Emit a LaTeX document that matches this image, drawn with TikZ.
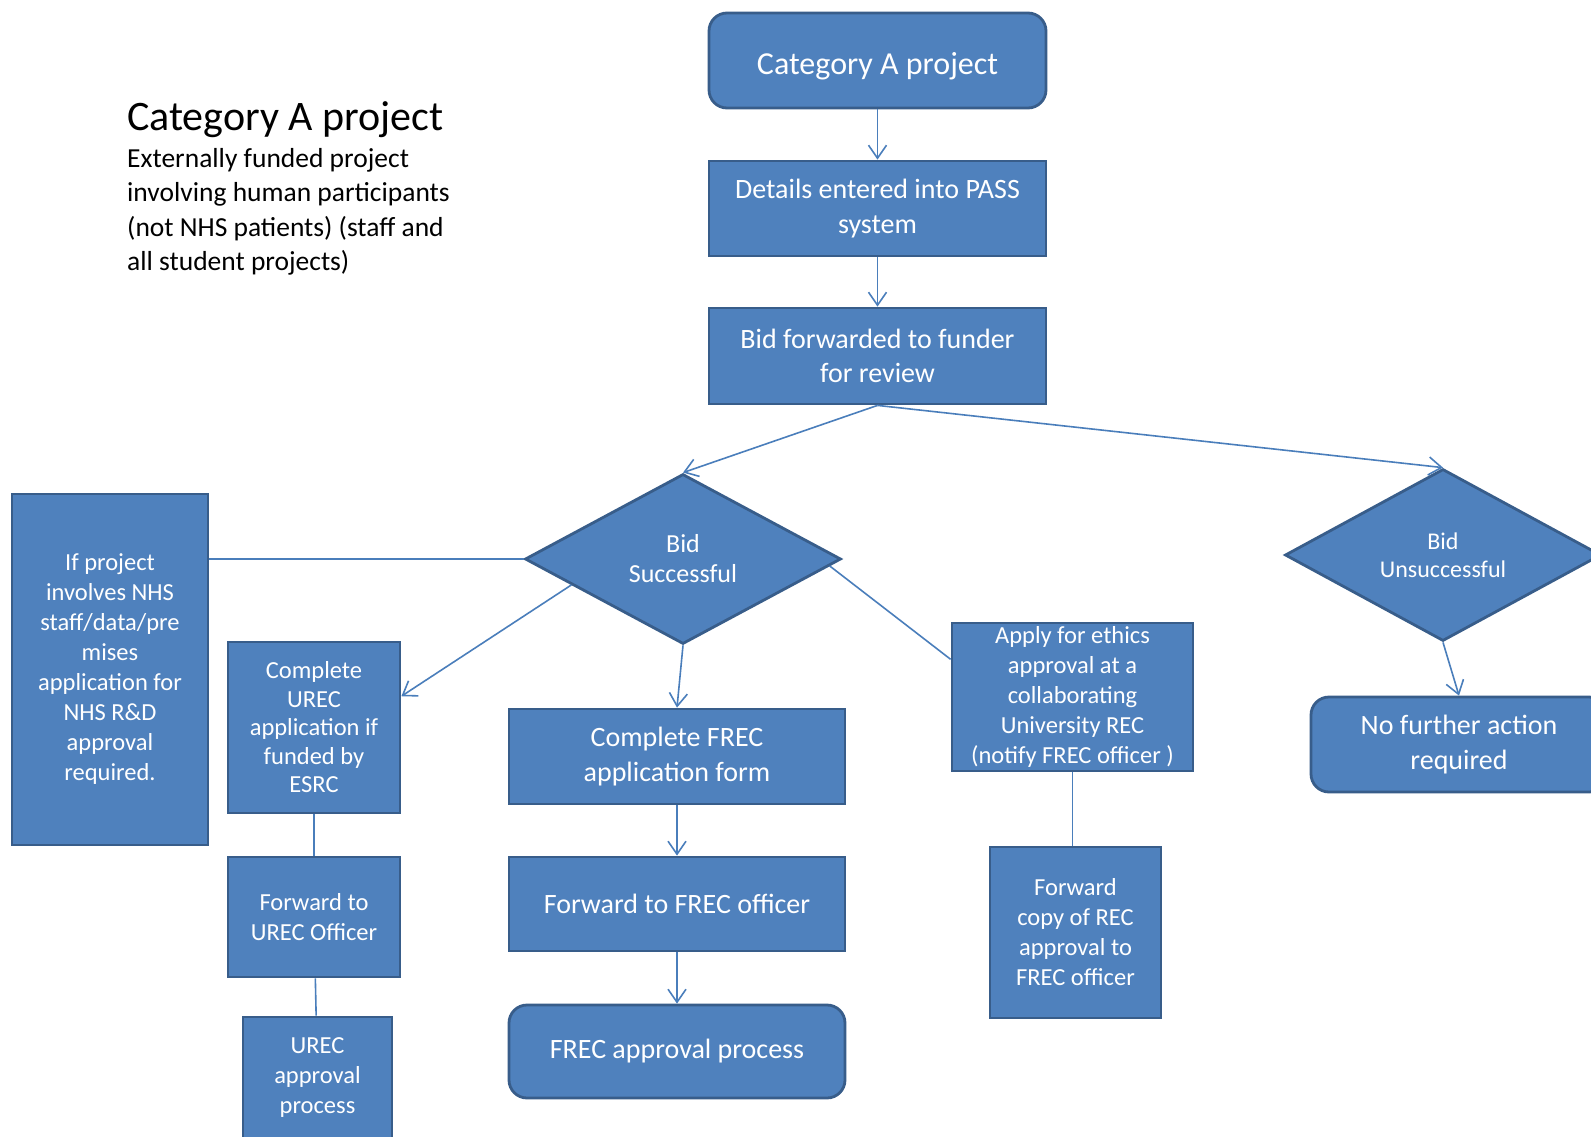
\documentclass[tikz,border=0pt]{standalone}
\usepackage{fontspec}
\setmainfont{Carlito}
\usetikzlibrary{shapes.geometric,arrows.meta,calc}
\definecolor{boxfill}{HTML}{4F81BD}
\definecolor{boxline}{HTML}{385D8A}
\definecolor{conn}{HTML}{4A7EBB}
\newcommand{\bigtxt}{\fontsize{28}{34.5}\selectfont}
\newcommand{\smalltxt}{\fontsize{24.5}{30}\selectfont}
\begin{document}
\begin{tikzpicture}[x=1pt,y=-1pt,
  box/.style={draw=boxline, line width=2.8pt, fill=boxfill, text=white, align=center, inner sep=0pt},
  rbox/.style={box, rounded corners=18pt},
  dia/.style={box, diamond, aspect=1.86},
  big/.style={font=\bigtxt},
  small/.style={font=\smalltxt},
  arr/.style={draw=conn, line width=1.6pt, -{Straight Barb[length=13pt,width=18pt]}},
  ln/.style={draw=conn, line width=1.6pt},
  desc/.style={anchor=base west, inner sep=0pt, font=\fontsize{27.5}{34.5}\selectfont}]
\useasboundingbox (0,0) rectangle (1591,1136);
\fill[white] (0,0) rectangle (1591,1136);

% left description
\node[anchor=base west, inner sep=0pt, font=\fontsize{42}{50}\selectfont] (title) at (127,130) {Category A project};
\node[desc] (d1) at (127,167) {Externally funded project};
\node[desc] (d2) at (127,201.5) {involving human participants};
\node[desc] (d3) at (127,236) {(not NHS patients) (staff and};
\node[desc] (d4) at (127,270.5) {all student projects)};

% top chain
\node[rbox, font=\fontsize{32}{36}\selectfont, minimum width=337pt, minimum height=95pt] (catA) at (877.5,60.5) {\raisebox{-6pt}[\height][\depth]{Category A project}};
\node[box, big, minimum width=337pt, minimum height=95pt] (pass) at (877.5,208.5) {Details entered into PASS\\system};
\node[box, big, minimum width=337pt, minimum height=96pt] (bid) at (877.5,356) {Bid forwarded to funder\\for review};

% diamonds
\node[dia, font=\fontsize{26}{30}\selectfont, minimum width=316pt, minimum height=170pt] (bs) at (683,559) {Bid\\Successful};
\node[dia, font=\fontsize{24}{28.5}\selectfont, minimum width=316pt, minimum height=172pt] (bu) at (1443,555) {Bid\\Unsuccessful};

\node[rbox, big, minimum width=296pt, minimum height=95pt] (nfa) at (1459,744.5) {No further action\\required};

% left branch
\node[box, small, minimum width=196pt, minimum height=351pt] (nhs) at (110,669.5) {If project\\involves NHS\\staff/data/pre\\mises\\application for\\NHS R\&D\\approval\\required.};
\node[box, font=\fontsize{24.5}{28.5}\selectfont, minimum width=172pt, minimum height=171pt] (urec) at (314,727.5) {Complete\\UREC\\application if\\funded by\\ESRC};
\node[box, small, minimum width=172pt, minimum height=120pt] (fwu) at (314,917) {Forward to\\UREC Officer};
\node[box, small, minimum width=149pt, minimum height=122pt] (urecap) at (317.5,1078) {UREC\\approval\\process};

% middle branch
\node[box, big, minimum width=336pt, minimum height=95pt] (cfrec) at (677,756.5) {Complete FREC\\application form};
\node[box, big, minimum width=336pt, minimum height=94pt] (ffrec) at (677,904) {Forward to FREC officer};
\node[rbox, big, minimum width=336pt, minimum height=93pt] (frecap) at (677,1051.5) {FREC approval process};

% right branch
\node[box, small, minimum width=241pt, minimum height=148pt] (apply) at (1072.5,697) {Apply for ethics\\approval at a\\collaborating\\University REC\\(notify FREC officer )};
\node[box, small, minimum width=171pt, minimum height=171pt] (fcopy) at (1075.5,932.5) {Forward\\copy of REC\\approval to\\FREC officer};

% connectors
\draw[arr] (catA) -- (pass);
\draw[arr] (pass) -- (bid);
\draw[arr] (bid.south) -- (bs.north);
\draw[arr] (bid.south) -- (bu.north);
\draw[ln] (bs.west) -- (bs.west -| nhs.east);
\draw[arr] ($(bs.west)!0.3!(bs.south)$) -- ($(urec.north east)!0.32!(urec.south east)$);
\draw[arr] (bs.south) -- (cfrec.north);
\draw[ln] ($(bs.east)!0.08!(bs.south)$) -- ($(apply.north west)!0.25!(apply.south west)$);
\draw[ln] (apply.south) -- (apply.south |- fcopy.north);
\draw[ln] (urec) -- (fwu);
\draw[ln] (fwu) -- (urecap);
\draw[arr] (cfrec) -- (ffrec);
\draw[arr] (ffrec) -- (frecap);
\draw[arr] (bu.south) -- (nfa.north);
\end{tikzpicture}
\end{document}
